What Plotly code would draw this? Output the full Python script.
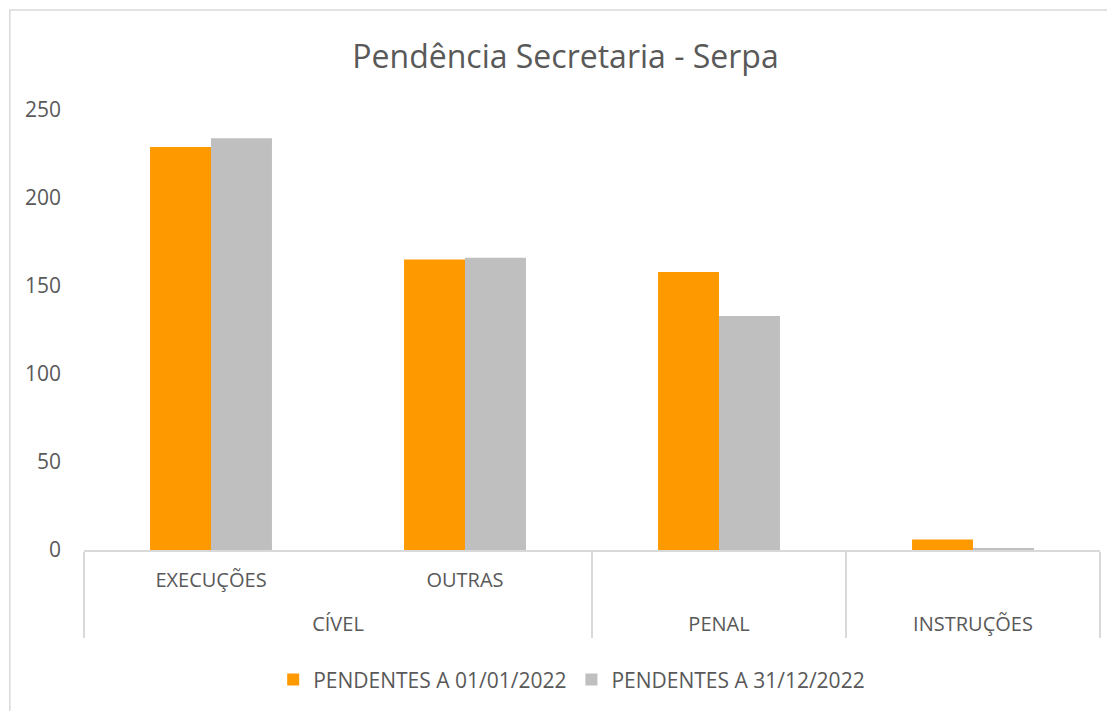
import plotly.graph_objects as go

groups = ["CÍVEL", "CÍVEL", "PENAL", "INSTRUÇÕES"]
subcats = ["EXECUÇÕES<br> ", "OUTRAS<br> ", " ", "  "]
series_names = ["PENDENTES A 01/01/2022", "PENDENTES A 31/12/2022"]
pend_inicio = [229, 165, 158, 6]
pend_fim = [234, 166, 133, 1]
colors = ["#FF9900", "#BFBFBF"]
title = "Pendência Secretaria - Serpa"
y_ticks = [0, 50, 100, 150, 200, 250]

font_family = "Open Sans, Noto Sans, sans-serif"
text_color = "#595959"

fig = go.Figure()
for name, vals, col in zip(series_names, [pend_inicio, pend_fim], colors):
    fig.add_trace(go.Bar(x=[groups, subcats], y=vals, name=name, marker_color=col,
                         marker_line_width=0))

fig.update_layout(
    width=1115, height=711,
    margin=dict(l=76, r=23, t=102, b=169, autoexpand=False),
    paper_bgcolor="white", plot_bgcolor="white",
    title=dict(text=title, x=0.5, xanchor="center", y=0.931, yanchor="middle",
               font=dict(family=font_family, size=32, color=text_color)),
    font=dict(family=font_family, size=20, color=text_color),
    barmode="group", bargap=0.52, bargroupgap=0,
    legend=dict(orientation="h", x=0.48, xanchor="center", y=-0.295, yanchor="middle",
                font=dict(size=21, color=text_color), traceorder="normal",
                itemwidth=30),
    shapes=[dict(type="rect", xref="paper", yref="paper",
                 x0=-0.073, x1=1.03, y0=-0.42, y1=1.227,
                 line=dict(color="#D9D9D9", width=1.5), fillcolor="rgba(0,0,0,0)",
                 layer="below")],
)
fig.update_yaxes(range=[0, 250], tickvals=y_ticks, showgrid=False, zeroline=False,
                 showline=False, ticks="", ticklabelstandoff=22, automargin=False,
                 tickfont=dict(size=21, color=text_color))
fig.update_xaxes(showline=True, linecolor="#D9D9D9", linewidth=1.5, automargin=False,
                 showdividers=True, dividercolor="#D9D9D9", dividerwidth=1.5,
                 ticklabelstandoff=11,
                 tickfont=dict(size=20, color=text_color), ticks="", showgrid=False)

fig.write_html("out.html")
